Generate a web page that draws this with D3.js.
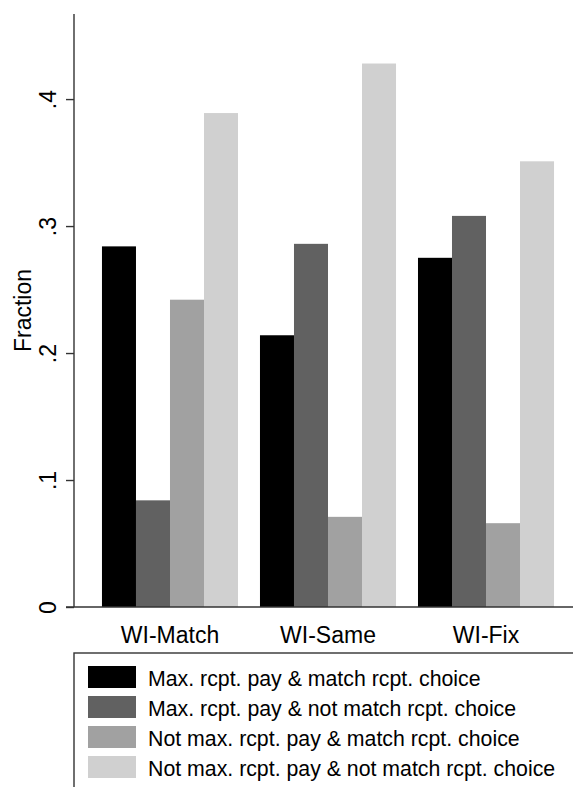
<!DOCTYPE html>
<html>
<head>
<meta charset="utf-8">
<script src="https://cdn.jsdelivr.net/npm/d3@7"></script>
<style>
  body { margin: 0; background: #fff; }
  svg text { font-family: "Liberation Sans", Arial, Helvetica, sans-serif; fill: #000; }
</style>
</head>
<body>
<div id="graph"></div>
<script>
// treatments on the x axis
var groups = ['WI-Match', 'WI-Same', 'WI-Fix']
var series = [
  'Max. rcpt. pay & match rcpt. choice',
  'Max. rcpt. pay & not match rcpt. choice',
  'Not max. rcpt. pay & match rcpt. choice',
  'Not max. rcpt. pay & not match rcpt. choice'
]
// one array per series, in the order of groups
var maxMatch = [0.284, 0.214, 0.275]
var maxNoMatch = [0.084, 0.286, 0.308]
var notMaxMatch = [0.242, 0.071, 0.066]
var notMaxNoMatch = [0.389, 0.428, 0.351]
var yTicks = [0, 0.1, 0.2, 0.3, 0.4]
var colors = ['#000000', '#616161', '#a1a1a1', '#d0d0d0']

var values = [maxMatch, maxNoMatch, notMaxMatch, notMaxNoMatch]

var W = 573, H = 787
var svg = d3.select('#graph').append('svg')
  .attr('width', W).attr('height', H)

var x0 = 74, yBase = 607, yTop = 14

var y = d3.scaleLinear().domain([0, 0.467]).range([yBase, yTop])

var gx = d3.scaleBand().domain(groups)
  .range([x0, 582]).paddingInner(0.139).paddingOuter(0.177)
var sx = d3.scaleBand().domain(series).range([0, gx.bandwidth()]).padding(0)

// bars
var cells = []
groups.forEach(function(g, gi){
  series.forEach(function(s, si){
    cells.push({g: g, s: s, si: si, v: values[si][gi]})
  })
})
svg.append('g').selectAll('rect').data(cells).join('rect')
  .attr('x', d => gx(d.g) + sx(d.s))
  .attr('width', sx.bandwidth())
  .attr('y', d => y(d.v))
  .attr('height', d => y(0) - y(d.v))
  .attr('fill', d => colors[d.si])

// y axis
var fmt = d => d === 0 ? '0' : d3.format('.1f')(d).replace(/^0/, '')
var yAxis = svg.append('g')
  .attr('transform', 'translate(' + x0 + ',0)')
  .call(d3.axisLeft(y).tickValues(yTicks).tickSize(8).tickPadding(0).tickFormat(fmt))
yAxis.select('.domain').attr('d', 'M0,' + yTop + 'V' + yBase).attr('stroke', '#333').attr('stroke-width', 1.4)
yAxis.selectAll('.tick line').attr('stroke', '#333').attr('stroke-width', 1.4)
yAxis.selectAll('.tick text')
  .attr('x', null).attr('dy', null)
  .attr('transform', 'translate(-18,0) rotate(-90)')
  .attr('text-anchor', 'middle')
  .style('font-size', '23px')

// baseline
svg.append('line')
  .attr('x1', x0 - 8).attr('x2', W).attr('y1', yBase).attr('y2', yBase)
  .attr('stroke', '#333').attr('stroke-width', 1.4)

// y title
svg.append('text')
  .attr('transform', 'translate(31,' + (yTop + yBase) / 2 + ') rotate(-90)')
  .attr('text-anchor', 'middle')
  .style('font-size', '23px')
  .text('Fraction')

// group labels
svg.append('g').selectAll('text').data(groups).join('text')
  .attr('x', d => gx(d) + gx.bandwidth() / 2)
  .attr('y', 643)
  .attr('text-anchor', 'middle')
  .style('font-size', '23px')
  .text(d => d)

// legend
var lg = svg.append('g')
lg.append('rect')
  .attr('x', x0).attr('y', 653).attr('width', 600).attr('height', 200)
  .attr('fill', 'none').attr('stroke', '#333').attr('stroke-width', 1.4)
var rows = lg.selectAll('g.row').data(series).join('g')
  .attr('class', 'row')
  .attr('transform', (d, i) => 'translate(88,' + (666 + i * 30) + ')')
rows.append('rect')
  .attr('width', 48).attr('height', 22)
  .attr('fill', (d, i) => colors[i])
rows.append('text')
  .attr('x', 60).attr('y', 20)
  .style('font-size', '21.3px')
  .text(d => d)
</script>
</body>
</html>
